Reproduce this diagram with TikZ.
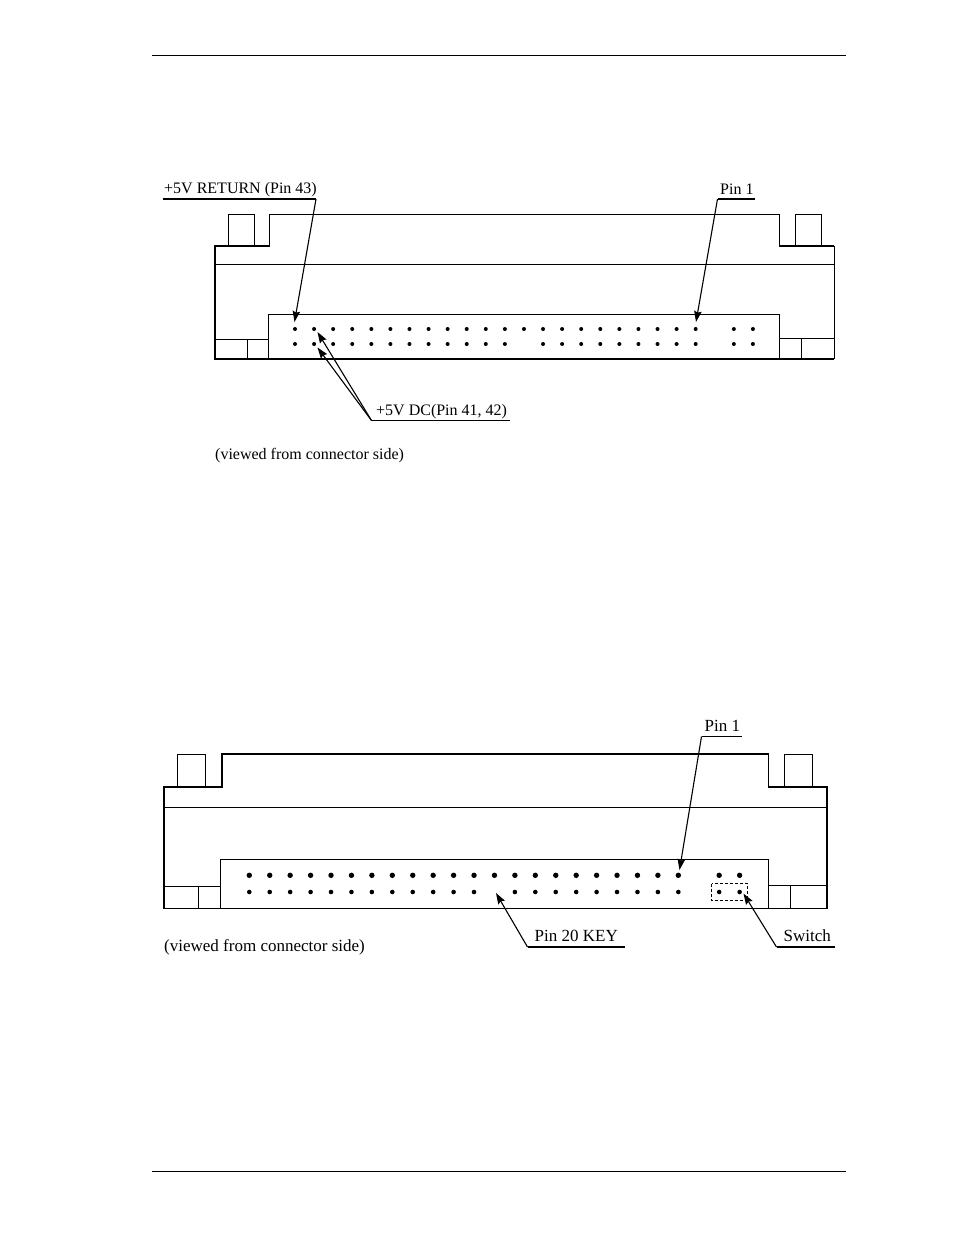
\documentclass[tikz,border=0pt]{standalone}
\usepackage{fontspec}
\setmainfont{Liberation Serif}
\usepackage{tkz-euclide}
\usetikzlibrary{arrows.meta}

\tikzset{
  outline/.style={line width=1.8pt, line join=miter},
  thinline/.style={line width=0.9pt},
  leader/.style={line width=1.1pt, -{Stealth[length=11pt,width=7.5pt,inset=1.5pt]}},
  underline/.style={line width=1.2pt},
  caption/.style={anchor=base west, inner sep=0pt, font=\fontsize{16}{18}\selectfont},
  biglabel/.style={caption, font=\fontsize{17}{19}\selectfont},
  pin/.style={circle, fill=black, inner sep=0pt, minimum size=#1}
}

\begin{document}
\begin{tikzpicture}[x=1pt, y=-1pt]
  \useasboundingbox (0,0) rectangle (954,1235);

  \draw[thinline] (152,55) -- (846,55);
  \draw[thinline] (152,1171) -- (846,1171);

  % upper connector
  \coordinate (U1) at (215,359);
  \coordinate (U2) at (215,246);
  \coordinate (U3) at (269.5,246);
  \coordinate (U4) at (269.5,214.5);
  \coordinate (U5) at (779.5,214.5);
  \coordinate (U6) at (779.5,246);
  \coordinate (U7) at (834,246);
  \coordinate (U8) at (834,359);
  \draw[line width=1.5pt] (U8) -- (U1) -- (U2) -- (U3) -- (U4) -- (U5) -- (U6) -- (U7);
  \draw[thinline] (U7) -- (U8);
  \draw[thinline] (215,264.5) -- (835,264.5);
  \draw[thinline] (268,359) -- (268,314) -- (779.5,314) -- (779.5,359);
  \draw[thinline] (215,339) -- (268,339) (247.5,339) -- (247.5,359);
  \draw[thinline] (779.5,338) -- (834,338) (801,338) -- (801,359);
  \draw[thinline] (228.5,246) -- (228.5,214.5) -- (254.5,214.5) -- (254.5,246);
  \draw[thinline] (795,246) -- (795,214.5) -- (821,214.5) -- (821,246);

  \foreach \k in {0,...,21,23,24}{
    \node[pin=4pt] (ua\k) at ({295+19.08*\k},329) {};
    \ifnum\k=12\else
      \node[pin=4pt] (ub\k) at ({295+19.08*\k},344) {};
    \fi
  }

  \node[caption] (ret) at (164,193.5) {+5V RETURN (Pin 43)};
  \tkzDefPoints{162.5/199/retA, 316/199/retB, 294.5/322/retT}
  \draw[underline] (retA) -- (retB);
  \draw[leader] (retB) -- (retT);

  \node[caption] (oneU) at (720,194) {Pin 1};
  \tkzDefPoints{717.5/199/oneA, 755/199/oneB, 696/322/oneT}
  \draw[underline] (oneA) -- (oneB);
  \draw[leader] (oneA) -- (oneT);

  \node[caption] (dc) at (376,415) {+5V DC(Pin 41, 42)};
  \tkzDefPoints{371.5/420.5/dcA, 510/420.5/dcB, 317.5/332/dcT, 317.5/347.5/dcS}
  \draw[underline] (dcA) -- (dcB);
  \draw[leader] (dcA) -- (dcT);
  \draw[leader] (dcA) -- (dcS);

  \node[caption] (viewU) at (215,459) {(viewed from connector side)};

  % lower connector
  \coordinate (L1) at (164,908.5);
  \coordinate (L2) at (164,787);
  \coordinate (L3) at (222,787);
  \coordinate (L4) at (222,754);
  \coordinate (L5) at (768.5,754);
  \coordinate (L6) at (768.5,787);
  \coordinate (L7) at (827,787);
  \coordinate (L8) at (827,908.5);
  \draw[outline] (L1) -- (L2) -- (L3) -- (L4) -- (L5) -- (L6) -- (L7) -- (L8) -- cycle;
  \draw[thinline] (164,807) -- (827,807);
  \draw[thinline] (220.5,908.5) -- (220.5,859.5) -- (768.5,859.5) -- (768.5,908.5);
  \draw[thinline] (164,886) -- (220.5,886) (198.5,886) -- (198.5,908.5);
  \draw[thinline] (768.5,885.5) -- (827,885.5) (790.5,885.5) -- (790.5,908.5);
  \draw[thinline] (177.5,787) -- (177.5,754) -- (205.5,754) -- (205.5,787);
  \draw[thinline] (784.5,787) -- (784.5,754) -- (812.5,754) -- (812.5,787);

  \foreach \k in {0,...,21,23,24}{
    \node[pin=5.4pt] (la\k) at ({249.3+20.43*\k},875.3) {};
    \ifnum\k=12\else
      \node[pin=4.6pt] (lb\k) at ({249.3+20.43*\k},892) {};
    \fi
  }

  \draw[thinline, dash pattern=on 3pt off 2pt] (711.5,883.5) rectangle (747.5,900.5);

  \node[biglabel] (oneL) at (704.5,731.5) {Pin 1};
  \tkzDefPoints{701.5/736.5/lonA, 741.5/736.5/lonB, 679.5/870/lonT}
  \draw[underline] (lonA) -- (lonB);
  \draw[leader] (lonA) -- (lonT);

  \node[biglabel] (key) at (534.5,941.5) {Pin 20 KEY};
  \tkzDefPoints{527.5/947/keyA, 625/947/keyB, 496/893/keyT}
  \draw[underline] (keyA) -- (keyB);
  \draw[leader] (keyA) -- (keyT);

  \node[biglabel] (sw) at (783.5,941.5) {Switch};
  \tkzDefPoints{776.5/947/swA, 835/947/swB, 743.5/893.5/swT}
  \draw[underline] (swA) -- (swB);
  \draw[leader] (swA) -- (swT);

  \node[biglabel] (viewL) at (164,951.5) {(viewed from connector side)};
\end{tikzpicture}
\end{document}
